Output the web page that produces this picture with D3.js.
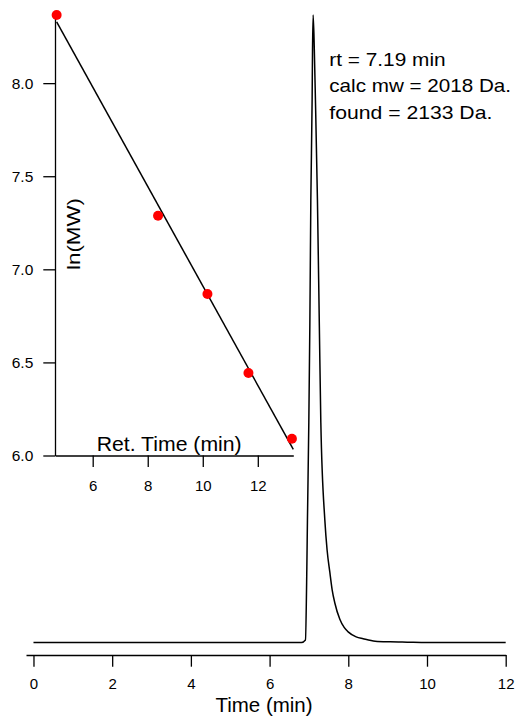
<!DOCTYPE html>
<html>
<head>
<meta charset="utf-8">
<script src="https://cdn.jsdelivr.net/npm/d3@7"></script>
<style>
  html, body { margin: 0; padding: 0; background: #fff; }
  svg { display: block; font-family: "Liberation Sans", Arial, Helvetica, sans-serif; }
</style>
</head>
<body>
<svg id="chart" width="520" height="719"></svg>
<script>
// ---- Data ----
// Chromatogram: time (min) and relative intensity (%)
const traceTime = [0, 1, 2, 3, 4, 5, 6, 6.5, 6.809, 6.911, 6.946, 6.962, 6.997, 7.023, 7.048, 7.081, 7.091, 7.107,
                   7.137, 7.165, 7.216, 7.264, 7.302, 7.404, 7.462, 7.531, 7.590, 7.658, 7.785, 7.895, 7.996, 8.200,
                   8.378, 8.683, 9.065, 9.5, 10, 10.5, 11, 11.5, 12];
const traceIntensity = [0, 0, 0, 0, 0, 0, 0, 0, 0, 0.4, 11.6, 19.5, 35.1, 50.6, 70.5, 86.5, 94.4, 100,
                   94.4, 86.5, 70.5, 50.6, 35.1, 19.5, 14.7, 11.2, 8.4, 6.3, 3.7, 2.4, 1.7, 0.9,
                   0.6, 0.2, 0.1, 0.05, 0, 0, 0, 0, 0];
const mainTicks = [0, 2, 4, 6, 8, 10, 12];

// Inset calibration: retention time (min) vs ln(MW)
const calTime = [4.69, 8.375, 10.17, 11.66, 13.24];
const calLnMW = [8.366, 7.288, 6.867, 6.443, 6.09];
const insetXTicks = [6, 8, 10, 12];
const insetYTicks = [6.0, 6.5, 7.0, 7.5, 8.0];

const annotations = ["rt = 7.19 min", "calc mw = 2018 Da.", "found = 2133 Da."];

// ---- Drawing ----
const svg = d3.select("#chart");

// Main chart scales
const x = d3.scaleLinear().domain([-0.19, 12]).range([26, 505.7]);
const y = d3.scaleLinear().domain([0, 100]).range([642.5, 15]);

const trace = traceTime.map((t, i) => [t, traceIntensity[i]]);
svg.append("path")
  .datum(trace)
  .attr("fill", "none")
  .attr("stroke", "#000")
  .attr("stroke-width", 1.5)
  .attr("stroke-linejoin", "round")
  .attr("d", d3.line().x(d => x(d[0])).y(d => y(d[1])).curve(d3.curveMonotoneX));

const gx = svg.append("g")
  .attr("transform", "translate(0,655)")
  .call(d3.axisBottom(x).tickValues(mainTicks).tickFormat(d3.format("d")).tickSize(11.7).tickSizeOuter(0).tickPadding(12));
gx.select(".domain").attr("stroke-width", 1.3);
gx.selectAll(".tick line").attr("stroke-width", 1.3);
gx.selectAll(".tick text").attr("font-size", 15).attr("font-family", "Liberation Sans, Arial, sans-serif").attr("fill", "#000");

svg.append("text")
  .attr("x", 264).attr("y", 711.5)
  .attr("text-anchor", "middle")
  .attr("font-size", 20.5)
  .text("Time (min)");

// Annotations
svg.append("g").selectAll("text")
  .data(annotations)
  .join("text")
  .attr("x", 329.3)
  .attr("y", (d, i) => 65.5 + i * 26.5)
  .attr("font-size", 18.5)
  .attr("textLength", (d, i) => [116.3, 181.7, 163][i])
  .attr("lengthAdjust", "spacingAndGlyphs")
  .text(d => d);

// Inset scales
const xi = d3.scaleLinear().domain([4.63, 13.29]).range([55, 293.3]);
const yi = d3.scaleLinear().domain([6.0, 8.366]).range([455.5, 15]);

const gxi = svg.append("g")
  .attr("transform", "translate(0,455.5)")
  .call(d3.axisBottom(xi).tickValues(insetXTicks).tickFormat(d3.format("d")).tickSize(11.5).tickSizeOuter(0).tickPadding(13));
gxi.select(".domain").attr("stroke-width", 1.3);
gxi.selectAll(".tick line").attr("stroke-width", 1.3);
gxi.selectAll(".tick text").attr("font-size", 15).attr("font-family", "Liberation Sans, Arial, sans-serif").attr("fill", "#000");

const gyi = svg.append("g")
  .attr("transform", "translate(55,0)")
  .call(d3.axisLeft(yi).tickValues(insetYTicks).tickFormat(d3.format(".1f")).tickSize(11.7).tickSizeOuter(0).tickPadding(10));
gyi.select(".domain").attr("stroke-width", 1.3);
gyi.selectAll(".tick line").attr("stroke-width", 1.3);
gyi.selectAll(".tick text").attr("font-size", 15.5).attr("font-family", "Liberation Sans, Arial, sans-serif").attr("fill", "#000");

// Linear regression fit
const mx = d3.mean(calTime), my = d3.mean(calLnMW);
const sxy = d3.sum(calTime, (t, i) => (t - mx) * (calLnMW[i] - my));
const sxx = d3.sum(calTime, t => (t - mx) ** 2);
const slope = sxy / sxx, intercept = my - slope * mx;
const fitX = [d3.min(calTime), xi.domain()[1]];
svg.append("line")
  .attr("x1", xi(fitX[0])).attr("y1", yi(intercept + slope * fitX[0]))
  .attr("x2", xi(fitX[1])).attr("y2", yi(intercept + slope * fitX[1]))
  .attr("stroke", "#000").attr("stroke-width", 1.5);

svg.append("g").selectAll("circle")
  .data(calTime.map((t, i) => [t, calLnMW[i]]))
  .join("circle")
  .attr("cx", d => xi(d[0]))
  .attr("cy", d => yi(d[1]))
  .attr("r", 5)
  .attr("fill", "#ff0000");

svg.append("text")
  .attr("x", 169.2).attr("y", 450.7)
  .attr("text-anchor", "middle")
  .attr("font-size", 19.5)
  .attr("textLength", 145)
  .attr("lengthAdjust", "spacingAndGlyphs")
  .text("Ret. Time (min)");

svg.append("text")
  .attr("transform", "translate(80,234) rotate(-90)")
  .attr("text-anchor", "middle")
  .attr("font-size", 17.5)
  .attr("textLength", 72)
  .attr("lengthAdjust", "spacingAndGlyphs")
  .text("ln(MW)");
</script>
</body>
</html>
